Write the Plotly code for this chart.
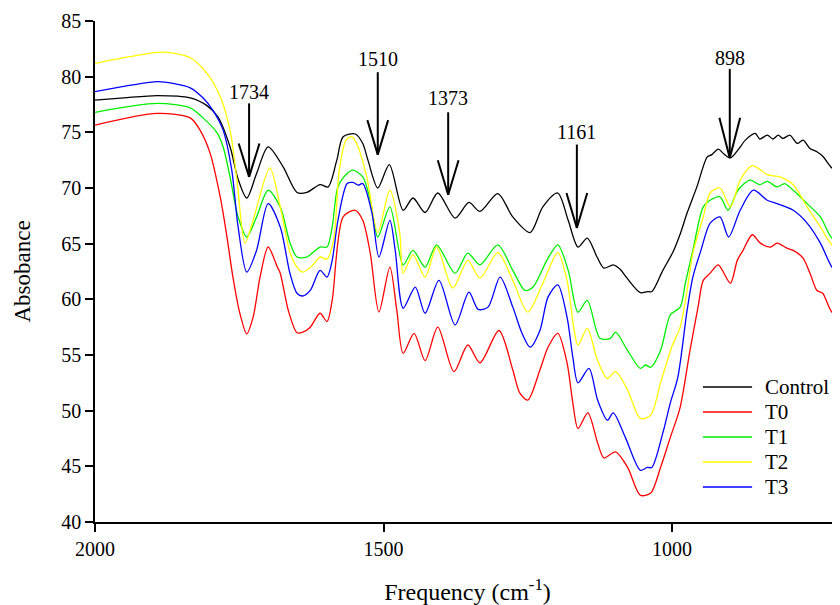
import plotly.graph_objects as go

# ---------------- data ----------------
control_x = [2000, 1950, 1892, 1835, 1806, 1787, 1766, 1752, 1737, 1720, 1700, 1674, 1650, 1633, 1610, 1596,
             1581, 1570, 1549, 1536, 1527, 1510, 1490, 1466, 1449, 1428, 1406, 1376, 1352, 1333, 1302, 1276,
             1246, 1224, 1198, 1180, 1163, 1147, 1130, 1118, 1102, 1090, 1078, 1055, 1043, 1035, 1016, 998,
             985, 974, 957, 939, 931, 920, 911, 899, 886, 873, 856, 848, 835, 825, 816, 808, 796, 783, 773,
             761, 749, 738, 723, 709]
control_y = [77.9, 78.1, 78.3, 78.1, 77.4, 76.4, 73.7, 70.8, 69.1, 71.3, 73.7, 71.9, 69.6, 69.6, 70.3, 70.1,
             72.5, 74.6, 74.85, 74.0, 72.5, 70.0, 72.1, 68.0, 69.1, 67.8, 69.55, 67.3, 68.7, 67.9, 69.5, 67.4,
             66.0, 68.3, 69.55, 67.1, 64.7, 65.5, 63.8, 62.8, 63.1, 62.7, 61.9, 60.6, 60.7, 60.7, 62.6, 64.3,
             66.0, 67.75, 70.1, 72.8, 73.0, 73.5, 73.1, 72.7, 73.4, 74.3, 74.9, 74.4, 74.75, 74.4, 74.75, 74.45,
             74.75, 74.0, 74.3, 73.55, 73.25, 72.8, 71.8, 71.5]

t0_x = [2000, 1892, 1835, 1818, 1801, 1783, 1771, 1761, 1749, 1737, 1726, 1714, 1700, 1684, 1679, 1665,
        1650, 1640, 1627, 1610, 1598, 1589, 1570, 1549, 1536, 1523, 1508, 1489, 1477, 1466, 1447, 1428,
        1406, 1378, 1354, 1333, 1300, 1276, 1264, 1250, 1229, 1215, 1198, 1182, 1172, 1163, 1146, 1129,
        1118, 1098, 1077, 1055, 1037, 1020, 1003, 986, 969, 955, 946, 934, 920, 899, 887, 877, 861, 847,
        829, 818, 801, 790, 773, 760, 749, 739, 723, 709]
t0_y = [75.65, 76.7, 76.3, 75.2, 73.2, 69.2, 65.5, 62.0, 58.75, 56.9, 58.4, 62.0, 64.7, 62.9, 62.35, 59.0,
        57.0, 57.05, 57.5, 58.75, 58.0, 59.9, 67.4, 68.0, 67.1, 64.15, 58.85, 62.9, 59.0, 55.15, 56.95, 54.5,
        57.5, 53.5, 55.9, 54.3, 57.2, 53.65, 51.6, 50.95, 53.65, 55.7, 56.95, 54.3, 50.7, 48.4, 49.8, 47.1,
        45.75, 46.3, 44.9, 42.4, 42.6, 44.9, 47.6, 50.3, 55.4, 59.3, 61.7, 62.35, 63.1, 61.45, 63.5, 64.4, 65.8, 65.05,
        64.7, 65.05, 64.6, 64.4, 63.7, 62.2, 60.8, 60.55, 58.85, 58.6]

t1_x = [2000, 1892, 1835, 1813, 1789, 1778, 1766, 1752, 1737, 1720, 1700, 1679, 1662, 1650, 1633, 1610,
        1598, 1589, 1579, 1563, 1553, 1536, 1523, 1510, 1489, 1466, 1449, 1428, 1408, 1376, 1354, 1333,
        1302, 1276, 1255, 1241, 1217, 1198, 1180, 1163, 1147, 1125, 1107, 1098, 1077, 1055, 1046, 1037,
        1020, 1003, 986, 977, 964, 946, 934, 917, 903, 886, 865, 848, 835, 818, 805, 790, 766, 743, 723, 709]
t1_y = [76.8, 77.6, 77.2, 76.3, 75.0, 73.7, 71.0, 67.4, 65.6, 67.4, 69.8, 68.3, 65.05, 63.8, 63.8, 64.7,
        64.7, 66.5, 70.1, 71.3, 71.6, 71.0, 68.9, 65.6, 68.3, 63.1, 64.4, 62.9, 64.9, 62.35, 64.15, 63.1,
        64.9, 62.6, 60.8, 61.1, 63.5, 64.9, 62.6, 58.85, 59.9, 56.5, 56.5, 57.05, 55.4, 53.8, 54.1, 53.9,
        55.4, 58.6, 59.3, 61.45, 64.4, 68.3, 68.9, 69.2, 68.0, 69.8, 70.7, 70.3, 70.6, 70.1, 70.4, 69.8, 68.6, 67.4, 65.5, 65.2]

t2_x = [2000, 1940, 1882, 1835, 1806, 1783, 1766, 1754, 1740, 1726, 1697, 1679, 1662, 1650, 1640, 1624,
        1610, 1598, 1586, 1577, 1565, 1555, 1545, 1529, 1510, 1489, 1472, 1466, 1449, 1428, 1408, 1380,
        1354, 1333, 1302, 1276, 1250, 1224, 1198, 1182, 1163, 1147, 1129, 1112, 1098, 1077, 1055, 1037,
        1020, 1000, 986, 974, 964, 946, 934, 917, 899, 882, 861, 835, 813, 790, 766, 743, 723, 709]
t2_y = [81.2, 81.8, 82.2, 81.7, 80.3, 78.2, 75.2, 70.7, 65.05, 67.1, 71.8, 68.3, 64.2, 62.9, 62.45, 63.0,
        63.8, 63.6, 65.5, 71.5, 74.3, 74.6, 73.8, 71.0, 66.0, 69.8, 66.0, 62.35, 64.0, 62.0, 64.7, 61.0,
        63.5, 61.9, 64.2, 61.7, 58.85, 61.45, 64.2, 61.7, 55.9, 57.4, 54.5, 52.9, 53.5, 51.85, 49.3, 49.6,
        52.5, 55.8, 57.5, 60.8, 64.15, 67.4, 69.55, 70.0, 68.3, 70.7, 72.0, 71.2, 71.0, 70.3, 68.3, 66.5, 64.9, 64.6]

t3_x = [2000, 1892, 1865, 1835, 1813, 1796, 1778, 1763, 1752, 1737, 1720, 1700, 1679, 1662, 1650, 1640,
        1627, 1610, 1598, 1589, 1579, 1563, 1553, 1544, 1536, 1520, 1508, 1489, 1480, 1466, 1445, 1428,
        1404, 1376, 1352, 1336, 1319, 1298, 1276, 1260, 1246, 1229, 1215, 1198, 1182, 1172, 1163, 1144,
        1129, 1112, 1102, 1081, 1055, 1043, 1035, 1016, 1003, 990, 974, 964, 950, 934, 917, 902, 882, 859,
        835, 818, 790, 766, 743, 723, 709]
t3_y = [78.65, 79.55, 79.4, 79.0, 78.1, 77.0, 75.2, 71.6, 66.5, 62.45, 64.4, 68.6, 66.5, 62.3, 60.55, 60.3,
        60.8, 62.6, 62.0, 63.5, 67.1, 70.4, 70.5, 70.25, 70.4, 67.75, 63.8, 67.1, 64.5, 59.2, 61.1, 58.75,
        61.7, 57.7, 60.65, 59.1, 59.3, 62.0, 59.3, 56.95, 55.7, 57.2, 60.2, 61.3, 58.4, 54.8, 52.5, 53.8,
        50.95, 49.15, 49.8, 47.6, 44.65, 44.9, 44.9, 48.0, 50.7, 53.0, 59.0, 62.0, 64.4, 66.85, 67.4, 65.6, 68.0, 69.8,
        68.9, 68.6, 68.0, 66.85, 65.05, 62.9, 62.2]

series_names = ["Control", "T0", "T1", "T2", "T3"]
series_colors = ["#000000", "#ff0000", "#00ee00", "#ffff00", "#0000ff"]
series_x = [control_x, t0_x, t1_x, t2_x, t3_x]
series_y = [control_y, t0_y, t1_y, t2_y, t3_y]

# peak arrows
peak_labels = ["1734", "1510", "1373", "1161", "898"]
peak_x = [1733, 1510, 1388, 1165, 900]
peak_label_y = [78.6, 81.6, 78.1, 75.0, 81.7]
peak_shaft_top = [77.6, 80.4, 76.8, 73.9, 80.7]
peak_tip_y = [71.0, 73.0, 69.4, 66.4, 72.7]
peak_arm_y = [74.0, 76.1, 72.5, 69.55, 76.3]
arm_half_width = 18  # in cm-1

x_ticks = [2000, 1500, 1000]
y_ticks = [40, 45, 50, 55, 60, 65, 70, 75, 80, 85]

FONT = "Liberation Serif"

fig = go.Figure()
for name, color, xs, ys in zip(series_names, series_colors, series_x, series_y):
    fig.add_trace(go.Scatter(x=xs, y=ys, mode="lines", name=name, showlegend=False,
                             line=dict(color=color, width=1.3, shape="spline", smoothing=0.8)))

shapes = []
for px_, top, tip, arm in zip(peak_x, peak_shaft_top, peak_tip_y, peak_arm_y):
    ln = dict(color="black", width=2)
    shapes.append(dict(type="line", xref="x", yref="y", x0=px_, x1=px_, y0=top, y1=tip, line=ln))
    shapes.append(dict(type="line", xref="x", yref="y", x0=px_ - arm_half_width, x1=px_, y0=arm, y1=tip, line=ln))
    shapes.append(dict(type="line", xref="x", yref="y", x0=px_ + arm_half_width, x1=px_, y0=arm, y1=tip, line=ln))

annotations = []
for lab, px_, ly in zip(peak_labels, peak_x, peak_label_y):
    annotations.append(dict(x=px_, y=ly, xref="x", yref="y", text=lab, showarrow=False,
                            font=dict(family=FONT, size=20, color="black"),
                            xanchor="center", yanchor="middle"))

# legend (drawn as a key in the lower right of the plot area)
leg_line_x0, leg_line_x1, leg_text_x = 0.816, 0.882, 0.897
leg_top_y, leg_step = 0.2695, 0.0499
for i, (name, color) in enumerate(zip(series_names, series_colors)):
    yy = leg_top_y - i * leg_step
    shapes.append(dict(type="line", xref="paper", yref="paper", x0=leg_line_x0, x1=leg_line_x1,
                       y0=yy, y1=yy, line=dict(color=color, width=1.3)))
    annotations.append(dict(x=leg_text_x, y=yy, xref="paper", yref="paper", text=name, showarrow=False,
                            xanchor="left", yanchor="middle",
                            font=dict(family=FONT, size=21, color="black")))

# the page body adds an 8px offset, so the figure is sized to fit the window
fig.update_layout(
    width=832, height=597,
    margin=dict(l=87, r=0, t=13, b=83),
    paper_bgcolor="white", plot_bgcolor="white",
    font=dict(family=FONT, size=20, color="black"),
    shapes=shapes, annotations=annotations,
    showlegend=False,
)
fig.update_xaxes(range=[2000, 709], tickvals=x_ticks, ticktext=[str(v) for v in x_ticks],
                 showgrid=False, zeroline=False, showline=True, linecolor="black", linewidth=1.5,
                 ticks="outside", ticklen=8, tickwidth=1.5, tickcolor="black",
                 tickfont=dict(family=FONT, size=20, color="black"),
                 title=dict(text="Frequency (cm<sup>-1</sup>)", font=dict(family=FONT, size=24, color="black"),
                            standoff=27))
fig.update_yaxes(range=[40, 85], tickvals=y_ticks,
                 showgrid=False, zeroline=False, showline=True, linecolor="black", linewidth=1.5,
                 ticks="outside", ticklen=8, tickwidth=1.5, tickcolor="black",
                 tickfont=dict(family=FONT, size=20, color="black"),
                 title=dict(text="Absobance", font=dict(family=FONT, size=23, color="black"), standoff=24))

fig.write_html("out.html")
